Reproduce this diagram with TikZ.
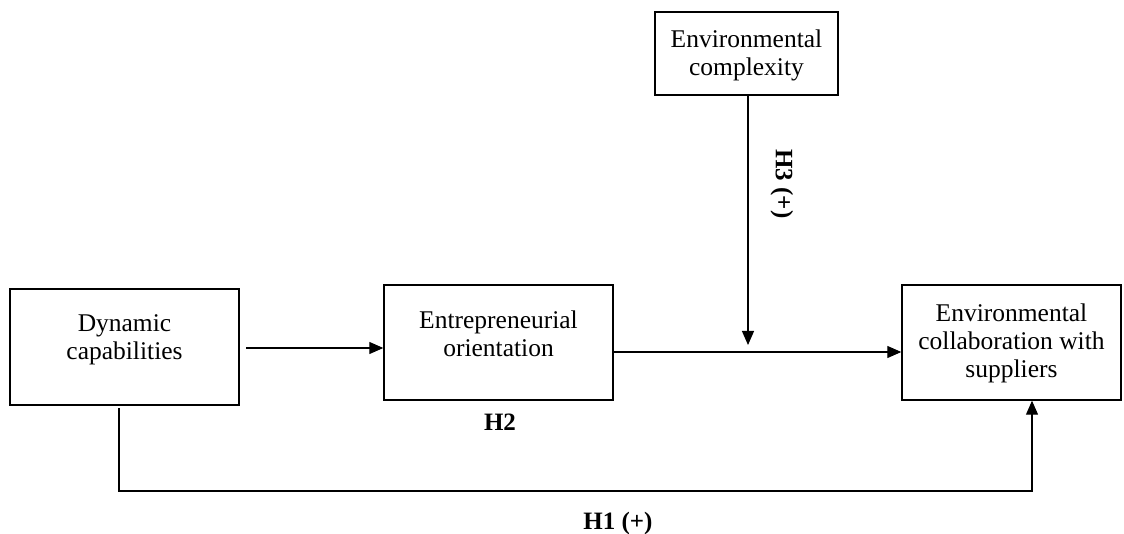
\documentclass[tikz,border=0pt]{standalone}
\usepackage{fontspec}
\setmainfont{Liberation Serif}
\usetikzlibrary{arrows.meta}
\begin{document}
\begin{tikzpicture}[x=1pt,y=-1pt,
  boxnode/.style={draw, line width=1.4pt, rectangle, inner sep=0pt},
  lbl/.style={align=center, font=\fontsize{25.5}{28}\selectfont, inner sep=0pt},
  hyp/.style={font=\fontsize{25}{28}\selectfont\bfseries, inner sep=0pt},
  conn/.style={line width=1.1pt},
  arr/.style={conn, -{Triangle[length=14pt,width=12pt]}}]
\useasboundingbox (0,0) rectangle (1124,534);
% boxes
\node[boxnode, minimum width=229pt, minimum height=116pt] (dc) at (124.5,347) {};
\node[boxnode, minimum width=229pt, minimum height=115pt] (eo) at (498.5,342.5) {};
\node[boxnode, minimum width=183pt, minimum height=83pt] (ec) at (746.5,53.5) {};
\node[boxnode, minimum width=219pt, minimum height=115pt] (ecs) at (1011.5,342.5) {};
% texts
\node[lbl] (dct) at (124.5,340) {Dynamic\\capabilities};
\node[lbl] (eot) at (498.5,334) {Entrepreneurial\\orientation};
\node[lbl] (ect) at (746.5,55) {Environmental\\complexity};
\node[lbl] (ecst) at (1011.5,343) {Environmental\\collaboration with\\suppliers};
\node[hyp] (h2) at (500,422) {H2};
\node[hyp] (h1) at (618,523) {H1 (+)};
\node[hyp, rotate=-90] (h3) at (782,184) {H3 (+)};
% connectors
\coordinate (a1s) at (246,348);
\draw[arr] (a1s) -- (eo.west |- a1s);
\draw[arr] (eo.east |- 0,352) -- (ecs.west |- 0,352);
\coordinate (mtip) at (748,345);
\draw[arr] (ec.south -| mtip) -- (mtip);
\coordinate (b1) at (119,408);
\coordinate (b2) at (119,491);
\coordinate (b3) at (1032,491);
\draw[arr] (b1) -- (b2) -- (b3) -- (ecs.south -| b3);
\end{tikzpicture}
\end{document}
